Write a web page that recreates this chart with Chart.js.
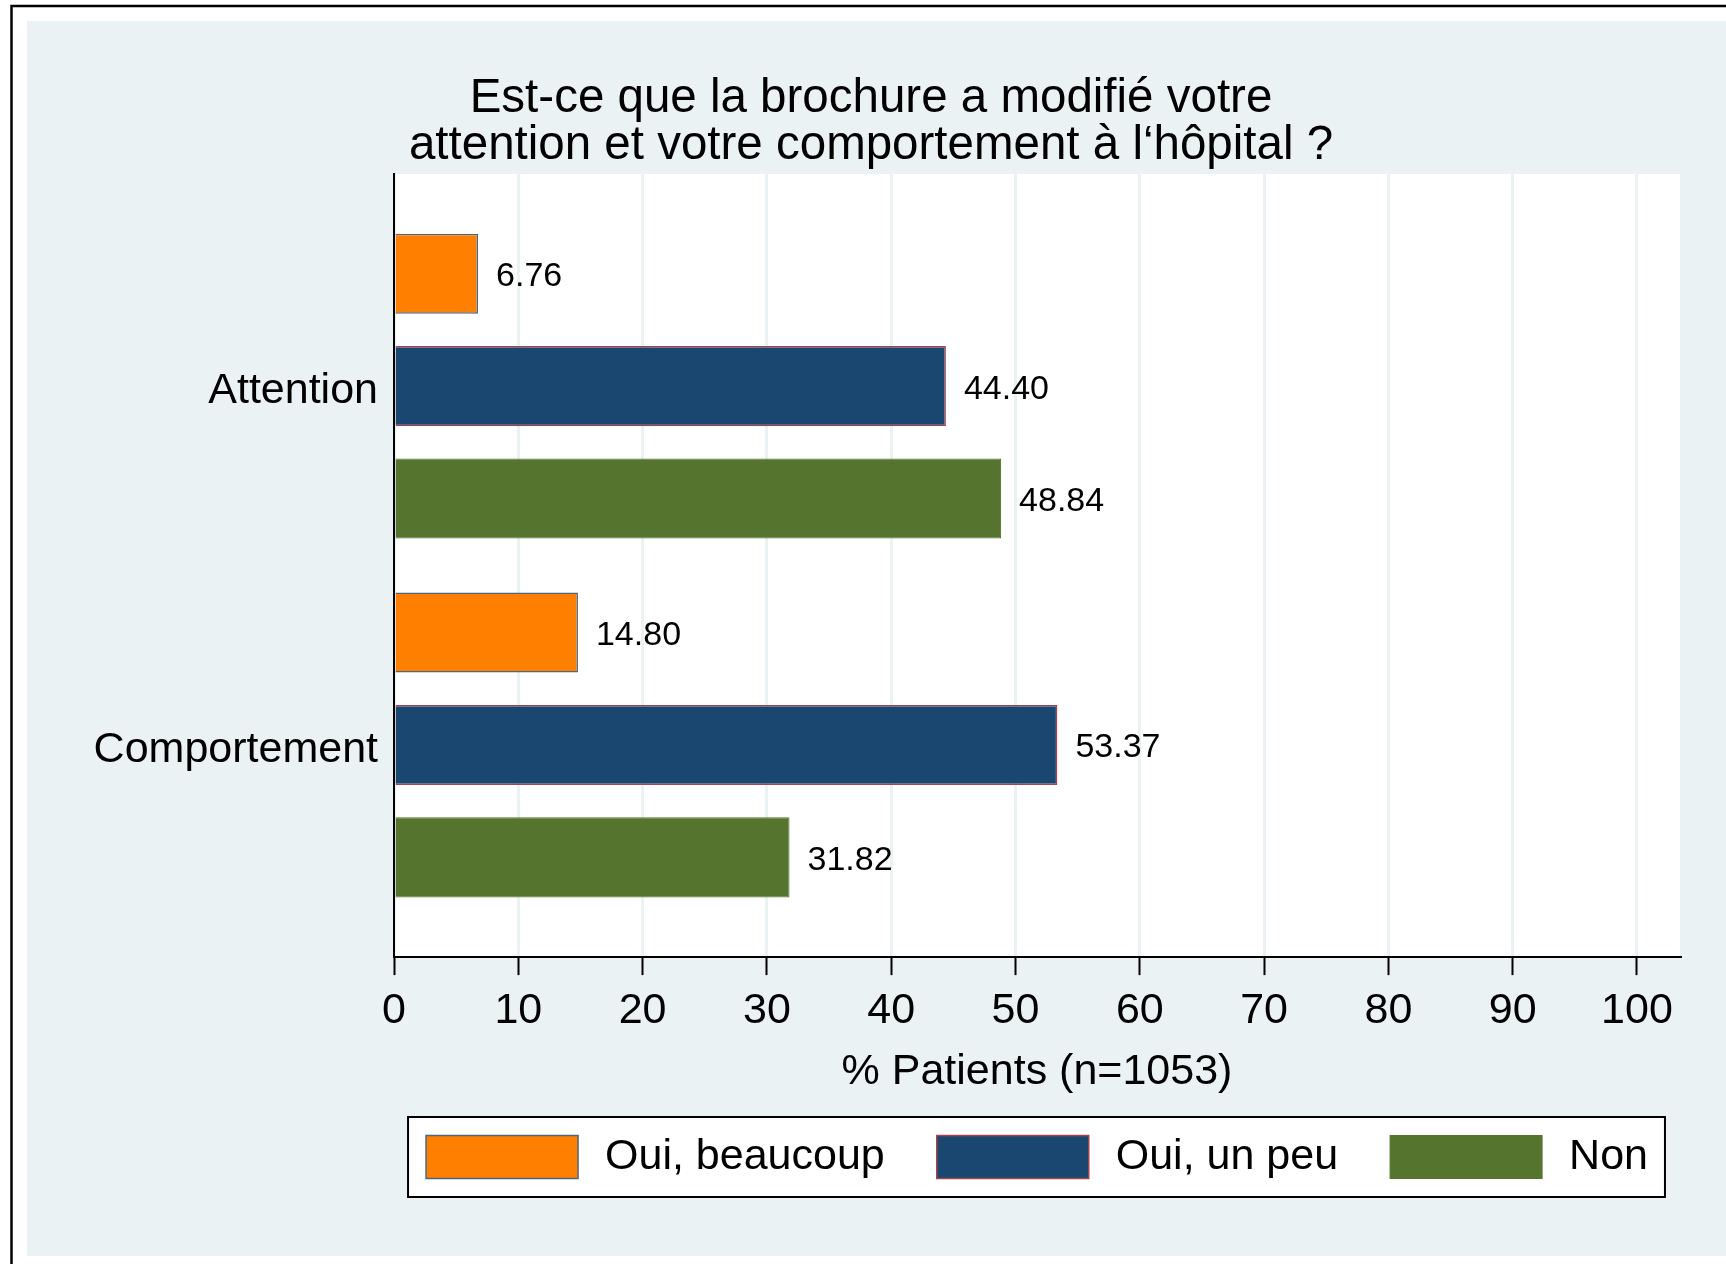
<!DOCTYPE html>
<html>
<head>
<meta charset="utf-8">
<script src="https://cdn.jsdelivr.net/npm/chart.js@4.4.1/dist/chart.umd.min.js"></script>
<style>
    html, body { margin: 0; padding: 0; background: #fff; }
    canvas { display: block; }
</style>
</head>
<body>
<canvas id="brochureChart" width="1726" height="1264"></canvas>
<script>
const categories  = ['Attention', 'Comportement'];
const seriesNames = ['Oui, beaucoup', 'Oui, un peu', 'Non'];
const beaucoup    = [6.76, 14.80];
const unPeu       = [44.40, 53.37];
const non         = [48.84, 31.82];
const xTicks      = [0, 10, 20, 30, 40, 50, 60, 70, 80, 90, 100];

const FONT = "'Liberation Sans', Arial, Helvetica, sans-serif";
const PANEL = '#EAF2F3';

// index positions of the categories on the numeric y scale
const toPoints = vals => vals.map((v, i) => ({ x: v, y: i }));

const backdrop = {
    id: 'backdrop',
    beforeDraw(chart) {
        const { ctx, chartArea: a, width, height } = chart;
        ctx.save();
        ctx.fillStyle = '#fff';
        ctx.fillRect(0, 0, width, height);
        ctx.fillStyle = PANEL;
        ctx.fillRect(27, 21, width - 27, 1256 - 21);
        ctx.strokeStyle = '#000';
        ctx.lineWidth = 2.5;
        ctx.strokeRect(11.5, 6, width + 20, height + 20);
        ctx.fillStyle = '#fff';
        ctx.fillRect(a.left, a.top, a.right - a.left, a.bottom - a.top);
        ctx.restore();
    }
};

const barLabels = {
    id: 'barLabels',
    afterDatasetsDraw(chart) {
        const { ctx } = chart;
        ctx.save();
        ctx.font = `34px ${FONT}`;
        ctx.fillStyle = '#000';
        ctx.textAlign = 'left';
        ctx.textBaseline = 'middle';
        chart.data.datasets.forEach((ds, di) => {
            chart.getDatasetMeta(di).data.forEach((bar, i) => {
                ctx.fillText(ds.data[i].x.toFixed(2), bar.x + 18, bar.y + 3);
            });
        });
        ctx.restore();
    }
};

// Stata-like boxed legend, one row, centred under the plot region
const legendBox = {
    id: 'legendBox',
    afterDraw(chart) {
        const { ctx, chartArea: a } = chart;
        const sw = 152, sh = 43, gapText = 27, gapItem = 52, cy = 1157;
        ctx.save();
        ctx.font = `43px ${FONT}`;
        const widths = seriesNames.map(n => ctx.measureText(n).width);
        const total = widths.reduce((s, w) => s + w, 0) + seriesNames.length * (sw + gapText) + (seriesNames.length - 1) * gapItem;
        let x = (a.left + a.right) / 2 - total / 2;
        const l = x - 18, r = x + total + 17, t = cy - 40, b = cy + 40;
        ctx.fillStyle = '#fff';
        ctx.fillRect(l, t, r - l, b - t);
        ctx.lineWidth = 2;
        ctx.strokeStyle = '#000';
        ctx.strokeRect(l, t, r - l, b - t);
        chart.data.datasets.forEach((ds, i) => {
            ctx.fillStyle = ds.backgroundColor;
            ctx.fillRect(x, cy - sh / 2, sw, sh);
            ctx.lineWidth = ds.borderWidth;
            ctx.strokeStyle = ds.borderColor;
            ctx.strokeRect(x, cy - sh / 2, sw, sh);
            x += sw + gapText;
            ctx.fillStyle = '#000';
            ctx.textAlign = 'left';
            ctx.textBaseline = 'middle';
            ctx.fillText(seriesNames[i], x, cy);
            x += widths[i] + gapItem;
        });
        ctx.restore();
    }
};

new Chart(document.getElementById('brochureChart'), {
    type: 'bar',
    data: {
        datasets: [
            { label: seriesNames[0], data: toPoints(beaucoup), backgroundColor: '#FF7F00', borderColor: '#4A6585', borderWidth: 1.5 },
            { label: seriesNames[1], data: toPoints(unPeu),    backgroundColor: '#1A476F', borderColor: '#A2434D', borderWidth: 1.5 },
            { label: seriesNames[2], data: toPoints(non),      backgroundColor: '#55752F', borderColor: '#55752F', borderWidth: 1 }
        ]
    },
    options: {
        responsive: false,
        animation: false,
        indexAxis: 'y',
        categoryPercentage: 0.94,
        barPercentage: 0.712,
        layout: { padding: { left: 62, right: 46, top: 21, bottom: 170.6 } },
        plugins: {
            title: {
                display: true,
                text: ['Est-ce que la brochure a modifié votre', 'attention et votre comportement à l‘hôpital ?'],
                color: '#000',
                font: { family: FONT, size: 47.5, weight: 'normal', lineHeight: 1 },
                padding: { top: 54, bottom: 4 }
            },
            legend: { display: false },
            tooltip: { enabled: false }
        },
        scales: {
            x: {
                type: 'linear',
                min: 0, max: 103.46,
                afterBuildTicks: s => { s.ticks = xTicks.map(v => ({ value: v })); },
                grid: { color: PANEL, lineWidth: 3, tickColor: '#000', tickWidth: 2, tickLength: 18 },
                border: { color: '#000', width: 2 },
                ticks: { color: '#000', padding: 14.8, autoSkip: false, maxRotation: 0,
                         font: { family: FONT, size: 43, lineHeight: 1 } },
                title: {
                    display: true, text: '% Patients (n=1053)', color: '#000',
                    font: { family: FONT, size: 43, lineHeight: 1 },
                    padding: { top: 2.7, bottom: 0 }
                }
            },
            y: {
                type: 'linear',
                min: -0.5912, max: 1.5912,
                reverse: true,
                offset: false,
                afterBuildTicks: s => { s.ticks = categories.map((c, i) => ({ value: i })); },
                afterFit: s => { s.width = 332; },
                grid: { display: false, drawTicks: false, offset: false },
                border: { color: '#000', width: 2 },
                ticks: { color: '#000', padding: 16, labelOffset: 5, callback: v => categories[v],
                         font: { family: FONT, size: 43 } }
            }
        }
    },
    plugins: [backdrop, barLabels, legendBox]
});
</script>
</body>
</html>
